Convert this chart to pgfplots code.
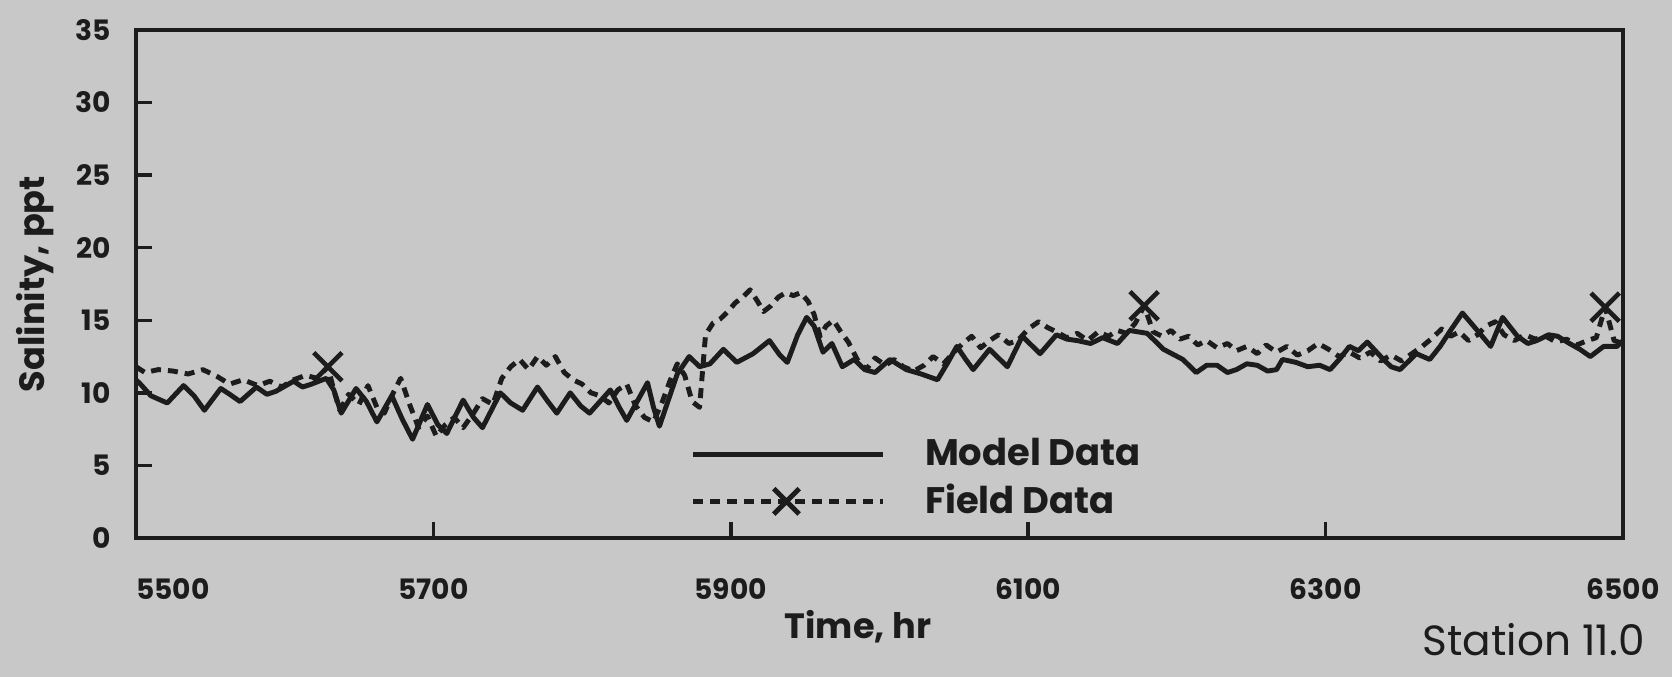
\documentclass[border=0pt]{standalone}
\usepackage{fontspec}
\setmainfont{Poppins}
\usepackage{pgfplots}
\pgfplotsset{compat=1.18}
\usetikzlibrary{calc,backgrounds}

\definecolor{bgcol}{RGB}{200,200,200}
\definecolor{ink}{RGB}{28,28,28}

% model run (solid) and field record (dashed), salinity in ppt
\pgfplotstableread{
t s
5500 10.9
5503 10.6
5510 9.8
5521 9.3
5532 10.5
5539 9.8
5546 8.8
5557 10.3
5563 9.9
5570 9.4
5581 10.4
5588 9.9
5594 10.1
5606 10.8
5612 10.4
5618 10.6
5628 11.0
5633 10.2
5638 8.6
5648 10.3
5655 9.4
5662 8.0
5672 9.8
5679 8.2
5686 6.8
5696 9.2
5703 7.8
5709 7.2
5720 9.5
5727 8.3
5733 7.6
5745 10.0
5752 9.3
5760 8.8
5770 10.4
5777 9.4
5783 8.6
5792 10.0
5799 9.1
5805 8.6
5819 10.2
5825 9.0
5830 8.1
5844 10.7
5848 9.0
5852 7.7
5858 9.5
5864 11.3
5872 12.5
5879 11.8
5886 12.0
5895 13.0
5904 12.1
5915 12.7
5926 13.6
5933 12.6
5938 12.1
5945 14.0
5951 15.2
5956 14.6
5962 12.8
5968 13.4
5975 11.8
5983 12.3
5990 11.6
5997 11.4
6007 12.3
6018 11.6
6028 11.3
6039 10.9
6046 12.1
6052 13.2
6058 12.3
6063 11.6
6074 13.0
6080 12.4
6086 11.8
6096 13.9
6102 13.3
6108 12.7
6119 14.0
6126 13.7
6133 13.6
6142 13.4
6150 13.8
6160 13.4
6168 14.3
6180 14.1
6191 13.0
6204 12.3
6213 11.4
6220 11.9
6227 11.9
6234 11.4
6240 11.6
6247 12.0
6254 11.9
6261 11.5
6267 11.6
6271 12.3
6280 12.1
6288 11.8
6296 11.9
6303 11.6
6310 12.4
6316 13.2
6322 12.9
6328 13.5
6338 12.4
6344 11.8
6350 11.6
6361 12.7
6370 12.3
6377 13.2
6384 14.3
6392 15.5
6402 14.3
6411 13.2
6419 15.2
6429 13.9
6436 13.4
6442 13.6
6450 14.0
6456 13.9
6464 13.4
6471 13.0
6478 12.5
6487 13.2
6496 13.2
6500 13.6
}\model

\pgfplotstableread{
t s
5500 11.8
5506 11.4
5515 11.6
5525 11.5
5535 11.3
5545 11.6
5555 11.1
5563 10.6
5572 10.9
5582 10.5
5590 10.8
5598 10.4
5606 10.9
5614 11.2
5622 11.0
5629 11.8
5633 10.2
5637 8.8
5643 9.9
5650 9.2
5656 10.5
5662 9.0
5667 8.6
5673 10.0
5678 11.0
5684 9.2
5690 7.6
5696 8.4
5702 7.0
5708 7.8
5714 8.3
5720 7.6
5727 8.6
5733 9.6
5740 9.2
5746 11.0
5752 11.8
5758 12.3
5764 11.6
5770 12.5
5776 11.9
5782 12.5
5788 11.4
5794 10.9
5800 10.6
5806 10.0
5812 9.8
5818 9.3
5824 10.2
5830 10.6
5836 9.1
5842 8.3
5848 8.0
5854 9.4
5859 10.8
5864 12.0
5869 11.2
5874 9.4
5879 9.0
5883 14.0
5888 14.8
5893 15.1
5898 15.6
5903 16.2
5908 16.6
5913 17.1
5918 16.3
5922 15.6
5927 16.0
5932 16.6
5937 16.9
5942 16.7
5947 16.9
5952 16.3
5956 15.4
5960 13.9
5964 14.6
5969 15.0
5974 14.2
5979 13.5
5985 12.3
5991 11.6
5997 12.4
6004 11.9
6010 12.3
6016 11.8
6023 11.5
6030 11.9
6036 12.5
6043 12.0
6050 12.8
6056 13.4
6062 13.9
6068 13.1
6074 13.6
6080 14.0
6087 13.4
6093 13.6
6100 14.4
6107 14.9
6113 14.5
6119 14.2
6126 13.8
6133 14.1
6140 13.6
6147 14.2
6154 13.9
6160 14.3
6166 14.1
6172 14.8
6178 16.0
6184 14.2
6190 13.9
6196 14.3
6202 13.7
6208 13.9
6214 13.3
6220 13.6
6227 13.1
6234 13.4
6240 12.9
6247 13.2
6254 12.7
6260 13.3
6267 12.8
6274 13.2
6281 12.6
6288 12.9
6295 13.4
6302 13.0
6309 12.5
6316 12.8
6323 12.4
6330 12.8
6337 12.2
6344 12.6
6351 12.2
6358 12.7
6365 13.2
6372 13.8
6378 14.4
6384 13.9
6390 14.2
6396 13.6
6402 14.0
6408 14.6
6414 14.9
6420 14.0
6427 13.6
6434 14.0
6441 13.7
6448 13.9
6455 13.5
6462 13.7
6469 13.3
6476 13.6
6482 13.8
6488 15.9
6494 13.6
6500 13.4
}\field

\begin{document}
\begin{tikzpicture}
\begin{axis}[
    name=ax,
    width=14.87cm, height=5.08cm, scale only axis,
    xmin=5500, xmax=6500, ymin=0, ymax=35,
    xtick={5500,5700,5900,6100,6300,6500},
    xticklabels={\hspace*{7.4mm}5500,5700,5900,6100,6300,6500},
    ytick={0,5,...,35},
    /pgf/number format/assume math mode=true,
    tick align=inside, tick pos=left,
    major tick length=1.6mm,
    every tick/.style={ink, line width=1pt},
    axis line style={ink, line width=1.3pt},
    ticklabel style={font=\bfseries\fontsize{8}{9}\selectfont, text=ink},
    xticklabel style={yshift=-2.8mm},
    yticklabel style={xshift=-1.3mm},
    xlabel={Time, hr},
    ylabel={Salinity, ppt},
    label style={font=\bfseries\fontsize{10}{12}\selectfont, text=ink},
    xlabel style={at={(axis description cs:0.4855,-0.175)}, anchor=center},
    ylabel style={at={(axis description cs:-0.068,0.5)}, anchor=center, rotate=0},
    legend style={draw=none, fill=none, inner sep=0pt,
        at={(axis description cs:0.3726,0.117)}, anchor=west,
        font=\bfseries\fontsize{10.5}{12}\selectfont, text=ink,
        row sep=-0.1mm,
        /tikz/every odd column/.append style={column sep=3.2mm}},
    legend cell align=left,
]
\addplot[ink, line width=1.4pt, line join=round,
    legend image code/.code={\draw[ink, line width=1.5pt] (0mm,0mm) -- (19mm,0mm);}]
    table[x=t, y=s] {\model};
\addlegendentry{Model Data}
\addplot[ink, line width=1.4pt, line join=round, dash pattern=on 1mm off 0.7mm,
    legend image code/.code={
        \draw[ink, line width=1.5pt, dash pattern=on 1mm off 0.7mm] (0mm,0mm) -- (19mm,0mm);
        \draw[ink, line width=1.4pt, solid] plot[mark=x, mark size=1.8mm, mark options={solid}] coordinates {(9.3mm,0mm)};}]
    table[x=t, y=s] {\field};
\addlegendentry{Field Data}
\addplot[ink, only marks, mark=x, mark size=2mm, line width=1.3pt, forget plot]
    coordinates {(5629,11.8) (6178,16.0) (6488,15.9)};
\end{axis}
\node[font=\fontsize{12}{14}\selectfont, text=ink] at ($(ax.south west)!0.94!(ax.south east)+(0,-1.02cm)$) {Station 11.0};
\begin{pgfonlayer}{background}
\fill[bgcol] ($(ax.south west)+(-1.36cm,-1.39cm)$) rectangle ($(ax.north east)+(0.49cm,0.30cm)$);
\end{pgfonlayer}
\end{tikzpicture}
\end{document}
